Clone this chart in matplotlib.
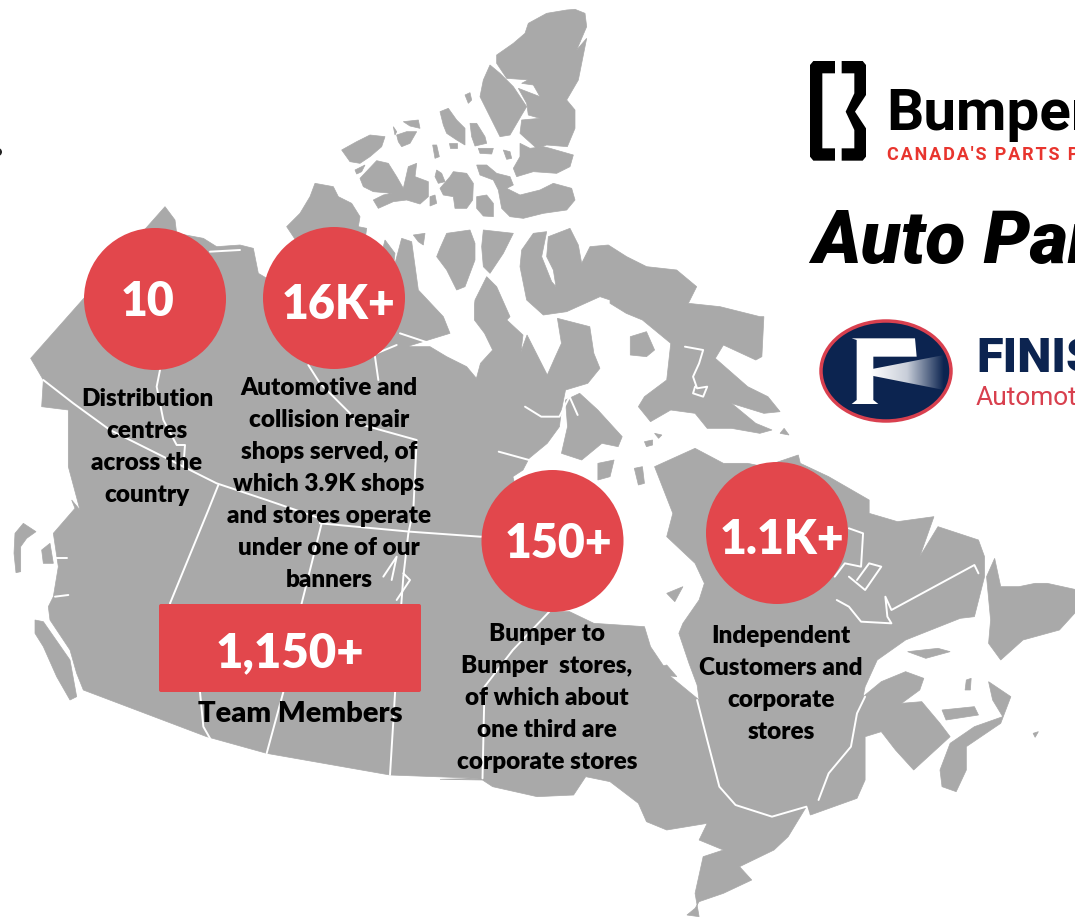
import matplotlib
matplotlib.use('Agg')
import matplotlib.pyplot as plt
import numpy as np
from matplotlib.colors import LinearSegmentedColormap
from matplotlib.patches import Circle, Ellipse, FancyBboxPatch, Polygon

MAP_GREY = '#a9a9a9'
RED = '#e2474c'
NAVY = '#0c2450'

# headline numbers and their captions
circle_values = ['10', '16K+', '150+', '1.1K+']
circle_captions = [
    ['Distribution', 'centres', 'across the', 'country'],
    ['Automotive and', 'collision repair', 'shops served, of', 'which 3.9K shops',
     'and stores operate', 'under one of our', 'banners'],
    ['Bumper to', 'Bumper  stores,', 'of which about', 'one third are', 'corporate stores'],
    ['Independent', 'Customers and', 'corporate', 'stores'],
]
team_value = '1,150+'
team_caption = 'Team Members'


def z1(pts):
    return [(280 + x / 3, y / 3) for x, y in pts]

def z2(pts):
    return [(x / 3, 190 + y / 3) for x, y in pts]

def z3(pts):
    return [(x / 3, 500 + y / 3) for x, y in pts]

def z4(pts):
    return [(440 + x / 2.47, 300 + y / 3) for x, y in pts]

def z5(pts):
    return [(440 + x / 2.47, 600 + y / 3) for x, y in pts]

def z6(pts):
    return [(795 + x / 3, 40 + y / 3) for x, y in pts]

def z7(pts):
    return [(800 + x / 3, 300 + y / 3) for x, y in pts]


mainland = (
    z2([(92, 505), (495, 50), (525, 90), (530, 130), (610, 145), (650, 170), (720, 165), (760, 175),
        (775, 250), (860, 300), (1100, 400), (1195, 430), (1230, 470), (1290, 470), (1340, 500), (1400, 530)])
    + z4([(90, 235), (100, 190), (130, 150), (110, 100), (85, 60), (85, 15)])
    + z1([(585, 900), (620, 830), (650, 860), (690, 950)])
    + z4([(165, 60), (205, 105), (200, 155), (215, 105), (265, 225), (285, 170), (300, 130), (290, 55),
          (370, 80), (380, 160), (395, 205), (365, 250), (310, 270), (300, 330), (295, 380), (265, 430),
          (220, 475), (205, 510), (180, 530)])
    + z5([(270, 35), (320, 35), (380, 70), (505, 80), (520, 140), (570, 230), (630, 290), (640, 300),
          (635, 255), (615, 190), (590, 100), (600, 70), (640, 0)])
    + z4([(653, 850), (630, 790), (560, 710), (575, 640), (530, 500), (630, 445), (700, 490), (760, 490),
          (800, 500), (885, 465), (890, 490), (960, 530), (1060, 600), (1060, 640), (1130, 665), (1220, 650),
          (1185, 770), (1230, 680), (1330, 720), (1345, 770), (1345, 830), (1320, 950)])
    + z5([(1285, 55), (1150, 120), (1080, 180), (1050, 260), (1045, 290), (1090, 245), (1150, 215), (1195, 235),
          (1185, 270), (1140, 310), (1190, 305), (1235, 370), (1260, 410), (1170, 510), (1125, 450), (1090, 395),
          (1050, 410), (1050, 540), (1030, 595), (915, 645), (905, 620), (890, 650), (860, 710), (825, 750),
          (740, 800), (770, 840), (700, 880), (640, 905), (630, 925), (610, 945), (640, 950), (630, 880),
          (650, 770), (700, 750), (640, 720), (660, 670), (560, 690), (510, 665), (490, 610), (420, 545),
          (360, 530), (330, 585), (240, 590), (130, 560), (105, 540), (0, 538)])
    + z3([(1440, 835), (1170, 825), (800, 760), (620, 710), (250, 570), (230, 520), (210, 450), (150, 360),
          (145, 320), (160, 290), (175, 200), (160, 100), (225, 25), (215, 0)])
    + z2([(240, 960), (205, 830), (205, 660), (125, 650), (130, 570)])
)

baffin = (
    z1([(720, 800), (725, 750), (760, 700), (800, 695), (785, 770), (815, 845), (828, 860), (820, 810), (800, 770),
        (805, 710), (870, 685), (895, 735), (905, 790), (930, 740), (985, 735), (1040, 770), (1100, 800),
        (1190, 810), (1250, 860), (1225, 910), (1320, 920), (1440, 950)])
    + z4([(800, 50), (795, 170), (780, 180), (700, 135), (680, 175), (760, 260), (810, 290), (840, 335), (800, 340),
          (720, 310), (780, 370), (820, 390), (790, 400), (720, 385), (660, 385), (630, 340), (570, 330), (520, 365),
          (490, 320), (505, 290), (560, 240), (570, 130), (500, 60), (460, 40), (420, 10), (420, 0)])
    + z1([(960, 890), (860, 935), (790, 945), (740, 900)])
)

arctic_islands = [z1(p) for p in [
    [(860, 30), (885, 28), (915, 40), (920, 80), (890, 150), (920, 115), (905, 190), (895, 240), (860, 300),
     (885, 330), (885, 385), (862, 440), (800, 435), (770, 445), (720, 400), (725, 360), (780, 355), (745, 345),
     (740, 310), (715, 265), (780, 290), (760, 255), (725, 250), (790, 215), (750, 240), (680, 235), (650, 190),
     (650, 165), (700, 130), (735, 100), (745, 70), (800, 40)],
    [(630, 195), (660, 220), (700, 260), (740, 320), (725, 345), (690, 405), (660, 410), (630, 350), (600, 290), (610, 240)],
    [(720, 430), (750, 445), (790, 440), (810, 445), (880, 465), (870, 500), (830, 520), (760, 515), (710, 530), (700, 505), (720, 470)],
    [(590, 495), (620, 495), (650, 520), (690, 530), (700, 555), (680, 565), (720, 585), (780, 570), (820, 550), (875, 565),
     (885, 600), (860, 630), (790, 640), (730, 655), (690, 650), (665, 625), (655, 570), (640, 540), (600, 525)],
    [(185, 450), (230, 425), (270, 405), (315, 410), (305, 440), (270, 470), (240, 490), (210, 485)],
    [(225, 510), (255, 495), (245, 515), (230, 522)],
    [(240, 535), (290, 482), (325, 490), (350, 530), (370, 565), (385, 500), (410, 490), (405, 530), (445, 545), (445, 590),
     (420, 612), (380, 600), (340, 605), (295, 625), (280, 600), (310, 585), (335, 580), (280, 575), (250, 560)],
    [(350, 405), (380, 395), (410, 395), (390, 430), (365, 440), (355, 425)],
    [(370, 365), (415, 360), (420, 385), (390, 378)],
    [(340, 380), (350, 395), (345, 405)],
    [(480, 335), (505, 325), (530, 360), (555, 385), (555, 435), (530, 420), (500, 400), (490, 375)],
    [(570, 370), (590, 370), (615, 410), (620, 430), (585, 438), (575, 410)],
    [(595, 445), (640, 445), (635, 462), (600, 460)],
    [(670, 450), (690, 455), (695, 475), (680, 478)],
    [(555, 285), (570, 278), (575, 300), (565, 310)],
    [(458, 435), (470, 435), (478, 470), (465, 475)],
    [(508, 430), (530, 430), (530, 445), (510, 445)],
    [(470, 510), (485, 520), (495, 545), (475, 550), (465, 530)],
    [(520, 515), (560, 520), (580, 550), (578, 600), (560, 625), (525, 625), (520, 590), (490, 585), (480, 565), (510, 530)],
    [(590, 590), (620, 585), (640, 610), (640, 650), (610, 648), (590, 625)],
    [(450, 590), (465, 585), (470, 610), (450, 618)],
    [(105, 550), (160, 560), (175, 590), (215, 610), (240, 650), (235, 680), (260, 685), (255, 720), (100, 800), (20, 680), (60, 640), (90, 590)],
    [(315, 720), (345, 760), (340, 800), (300, 780)],
    [(365, 715), (395, 725), (415, 870), (490, 950), (510, 1000), (380, 1040), (300, 960)],
    [(400, 705), (435, 700), (430, 735), (415, 725)],
    [(500, 700), (570, 690), (585, 730), (585, 780), (555, 860), (530, 870), (500, 810), (470, 770), (480, 745)],
    [(610, 690), (700, 700), (670, 760), (630, 820), (610, 800), (605, 740)],
]]

other_islands = [
    z4([(470, 110), (510, 95), (530, 150), (510, 170), (470, 165)]),
    z4([(310, 300), (345, 280), (390, 330), (450, 410), (440, 440), (400, 430), (350, 480), (300, 460), (315, 380)]),
    z4([(390, 490), (430, 480), (420, 530), (390, 540)]),
    z4([(480, 505), (500, 500), (505, 550), (490, 555)]),
    z4([(505, 425), (525, 420), (525, 435), (510, 440)]),
    z4([(530, 400), (548, 405), (540, 415)]),
    z4([(850, 385), (862, 405), (840, 400)]),
    z4([(560, 880), (600, 860), (580, 905)]),
    z5([(530, 205), (560, 195), (585, 230), (550, 225)]),
    z5([(1240, 560), (1275, 575), (1300, 510), (1300, 440), (1385, 370), (1410, 290), (1355, 245), (1365, 300),
        (1390, 350), (1320, 380), (1260, 430), (1235, 510)]),
    z5([(1240, 330), (1320, 320), (1330, 345), (1250, 360)]),
    z5([(1155, 155), (1230, 145), (1260, 155), (1200, 175)]),
    z5([(1300, 240), (1312, 235), (1310, 270), (1297, 270)]),
    z5([(1465, 400), (1478, 395), (1470, 412)]),
    z4([(1350, 830), (1370, 775), (1385, 860), (1430, 860), (1470, 850), (1500, 850), (1575, 870)])
    + z5([(1575, 30), (1530, 90), (1440, 120), (1385, 180), (1355, 130), (1360, 60)]),
    z3([(105, 360), (130, 365), (210, 480), (230, 590), (210, 600), (170, 530), (130, 440), (105, 400)]),
    z3([(45, 100), (70, 70), (108, 95), (80, 115), (62, 140), (62, 215), (48, 218), (42, 160)]),
    z3([(125, 150), (150, 130), (160, 190), (130, 190)]),
]

# provincial borders, rivers and lakes, all white
borders = [
    z2([(130, 570), (220, 640), (330, 720), (550, 830), (650, 880), (800, 930), (960, 985)])
    + z3([(960, 70), (1230, 95), (1440, 110)]) + z4([(105, 710)]),
    z2([(480, 540), (470, 590), (490, 690), (530, 765), (555, 765), (550, 830)]),
    z2([(925, 525), (960, 580), (1000, 620), (1050, 670), (1070, 700), (1250, 750), (1240, 960)])
    + z3([(1225, 100), (1210, 230), (1190, 500), (1170, 825)]),
    z2([(655, 885), (625, 960)]) + z3([(510, 310), (600, 576), (610, 680), (630, 715)]),
    z3([(965, 70), (905, 310), (850, 576), (800, 760)]),
    z5([(270, 35), (180, 150), (110, 260), (105, 535)]),
    z5([(635, 300), (660, 420), (690, 560), (730, 615), (820, 650), (905, 620), (910, 640)]),
    z5([(1050, 290), (1030, 340), (1015, 440), (960, 520), (935, 600)]),
    z4([(1330, 820), (1320, 795), (1115, 930), (1100, 890), (1105, 950)]) + z5([(1115, 70), (1040, 65), (1010, 20), (980, 0)]),
    z4([(975, 830), (1000, 790), (1040, 800), (1045, 700), (1010, 685)]),
    z4([(1010, 830), (1050, 870), (1090, 800), (1060, 790), (1030, 840)]),
    z4([(605, 140), (650, 150), (640, 190), (625, 230), (635, 265), (660, 260), (650, 290), (625, 280), (630, 260)]),
    z4([(145, 455), (220, 480)]),
    z4([(210, 320), (250, 350), (295, 350), (320, 290), (340, 345)]),
    z2([(1130, 490), (1190, 465)]),
    z2([(1125, 500), (1135, 570)]),
    z2([(630, 185), (720, 180)]),
    z3([(1150, 230), (1190, 170), (1175, 240)]),
    z3([(1210, 220), (1230, 240), (1190, 300)]),
    z3([(165, 175), (200, 175)]),
    z3([(165, 290), (205, 285)]),
    z2([(1200, 430), (1290, 460), (1360, 495)]),
]

logo_left = z6([(45, 75), (55, 63), (120, 63), (120, 100), (82, 100), (82, 325), (120, 325), (120, 362), (55, 362), (45, 350)])
logo_right = z6([(140, 63), (203, 63), (213, 75), (213, 165), (180, 215), (213, 265), (213, 350), (203, 362), (140, 362),
                 (140, 325), (178, 325), (178, 270), (152, 215), (178, 160), (178, 100), (140, 100)])
finish_f = z7([(155, 115), (345, 115), (350, 170), (220, 170), (220, 300), (235, 312), (155, 312), (170, 300), (170, 120)])
finish_beam = z7([(165, 217), (432, 165), (432, 270)])

fig = plt.figure(figsize=(10.75, 9.18), dpi=100)
ax = fig.add_axes([0, 0, 1, 1])

for outline in [mainland, baffin] + arctic_islands + other_islands:
    ax.add_patch(Polygon(outline, closed=True, facecolor=MAP_GREY, edgecolor=MAP_GREY, linewidth=0.5, zorder=1))
for line in borders:
    xs, ys = zip(*line)
    ax.plot(xs, ys, color='white', linewidth=1.4, solid_capstyle='round', zorder=2)

# red badges
circle_centres = [(155, 299), (334, 298), (552.5, 541), (777, 533)]
value_centres = [(148, 302), (339, 305), (559, 544), (782, 540)]
caption_x = [147, 329, 547, 781]
caption_top = [399, 388, 634, 636]
for centre, value, pos, caption, cx, top in zip(circle_centres, circle_values, value_centres,
                                                circle_captions, caption_x, caption_top):
    ax.add_patch(Circle(centre, 71, facecolor=RED, edgecolor='none', zorder=3))
    ax.text(pos[0], pos[1], value, color='white', fontsize=33.5, fontweight='heavy', family='Lato',
            ha='center', va='center', zorder=4)
    for i, line in enumerate(caption):
        ax.text(cx, top + 32 * i, line, color='black', fontsize=17.5, fontweight='heavy', family='Lato',
                ha='center', va='center', zorder=4)

ax.add_patch(FancyBboxPatch((160, 605), 260, 86, boxstyle='round,pad=1,rounding_size=2',
                            facecolor=RED, edgecolor='none', zorder=3))
ax.text(290, 653, team_value, color='white', fontsize=34, fontweight='heavy', family='Lato',
        ha='center', va='center', zorder=4)
ax.text(300, 714, team_caption, color='black', fontsize=21, fontweight='heavy', family='Lato',
        ha='center', va='center', zorder=4)

# Bumper logo
ax.add_patch(Polygon(logo_left, closed=True, facecolor='black', edgecolor='none', zorder=3))
ax.add_patch(Polygon(logo_right, closed=True, facecolor='black', edgecolor='none', zorder=3))
ax.text(886, 130, 'Bumper', color='black', fontsize=42, fontweight='bold', family='Roboto', ha='left', va='baseline')
ax.text(887, 160, '\u200a'.join("CANADA'S PARTS PEOPLE"), color='#e8352e', fontsize=13, fontweight='bold',
        family=['Roboto', 'DejaVu Sans'], ha='left', va='baseline')
ax.text(812, 263, 'Auto Parts', color='black', fontsize=53, fontweight='black', fontstyle='italic',
        family='Roboto', ha='left', va='baseline')

# FinishMaster logo
ax.add_patch(Ellipse((886, 371), 130, 100, facecolor=NAVY, edgecolor='#d9404f', linewidth=2.5, zorder=3))
ax.add_patch(Polygon(finish_f, closed=True, facecolor='white', edgecolor='none', zorder=4))
beam_cmap = LinearSegmentedColormap.from_list('beam', ['white', '#c8ced9', NAVY])
beam = ax.imshow(np.linspace(0, 1, 256)[None, :], extent=(870, 944, 430, 350), cmap=beam_cmap, aspect='auto', zorder=5)
beam.set_clip_path(Polygon(finish_beam, closed=True, transform=ax.transData))
ax.text(976, 372, 'FINISHMASTER', color=NAVY, fontsize=35, fontweight='black', family='Roboto', ha='left', va='baseline')
ax.text(976, 405, 'Automotive', color='#d8404e', fontsize=19, family='Roboto', ha='left', va='baseline')

# scrap of a dot on the left edge
ax.add_patch(Circle((-2, 152), 4, facecolor='#222222', edgecolor='none', zorder=3))

ax.set_xlim(0, 1075)
ax.set_ylim(918, 0)
ax.axis('off')

plt.savefig('out.png', dpi=100)
plt.close()
